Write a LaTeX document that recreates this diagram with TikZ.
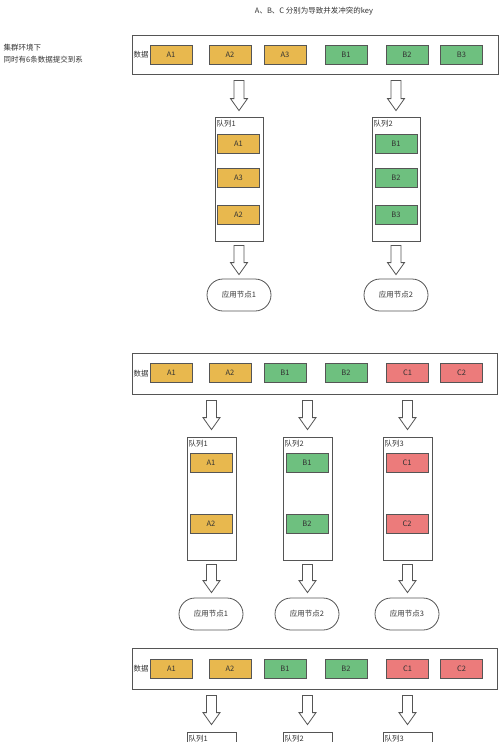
\documentclass[tikz,border=0pt]{standalone}
\usepackage{fontspec}
\setmainfont{Noto Sans CJK SC}
\usetikzlibrary{calc}
\definecolor{keyA}{HTML}{E8B84E}
\definecolor{keyB}{HTML}{6EC07F}
\definecolor{keyC}{HTML}{EC7B7B}
\definecolor{edge}{HTML}{555555}
\definecolor{ink}{HTML}{333333}
\begin{document}
\begin{tikzpicture}[x=1pt, y=-1pt, line width=0.8pt, text=ink, font=\fontsize{7.5}{9}\selectfont,
    cell/.style = {draw=edge, minimum width=42pt, minimum height=19pt, inner sep=0pt},
    ka/.style = {cell, fill=keyA}, kb/.style = {cell, fill=keyB}, kc/.style = {cell, fill=keyC},
    data/.style = {draw=edge, minimum width=365pt, minimum height=41pt},
    queue/.style = {draw=edge, minimum width=49pt, minimum height=123pt},
    app/.style = {draw=edge, rounded corners=16pt, minimum width=64pt, minimum height=32pt},
    tag/.style = {inner sep=1.5pt},
    hollow/.style = {draw=edge, to path={let \p1=(\tikztostart), \p2=(\tikztotarget) in
        (\x1-5pt,\y1) -- (\x1+5pt,\y1) -- (\x1+5pt,\y2+12pt) -- (\x1+8.5pt,\y2+12pt)
        -- (\x1,\y2) -- (\x1-8.5pt,\y2+12pt) -- (\x1-5pt,\y2+12pt) -- cycle}}]
    \useasboundingbox (0,0) rectangle (500,742);
    \clip (0,0) rectangle (500,742);
    % header
    \node (title) at (314,11) {A、B、C 分别为导致并发冲突的key};
    \node[align=left, anchor=west, font=\fontsize{7.5}{12}\selectfont] (note) at (0,54) {集群环境下\\同时有6条数据提交到系};
    % first case: A and B
    \node[data, minimum width=366pt, minimum height=39pt] (d1) at (315,54.5) {};
    \node[tag, anchor=west] (d1t) at (d1.west) {数据};
    \node[ka] (d1a1) at (171,54.5) {A1};
    \node[ka] (d1a2) at (230,54.5) {A2};
    \node[ka] (d1a3) at (285,54.5) {A3};
    \node[kb] (d1b1) at (346,54.5) {B1};
    \node[kb] (d1b2) at (407,54.5) {B2};
    \node[kb] (d1b3) at (461.5,54.5) {B3};
    \node[queue, minimum width=48pt, minimum height=124pt] (q11) at (239,179) {};
    \node[queue, minimum width=48pt, minimum height=124pt] (q12) at (396,179) {};
    \node[tag, anchor=north west] (q11t) at ([yshift=-2pt]q11.north west) {队列1};
    \node[tag, anchor=north west] (q12t) at ([yshift=-2pt]q12.north west) {队列2};
    \node[ka] (q11a1) at (238.5,144) {A1};
    \node[ka] (q11a3) at (238.5,177.5) {A3};
    \node[ka] (q11a2) at (238.5,214.5) {A2};
    \node[kb] (q12b1) at (396,144) {B1};
    \node[kb] (q12b2) at (396,177.5) {B2};
    \node[kb] (q12b3) at (396,214.5) {B3};
    \node[app] (n11) at (239,295) {应用节点1};
    \node[app] (n12) at (396,295) {应用节点2};
    \draw[hollow] ([yshift=-6pt]d1.south -| q11.north) to ([yshift=6pt]q11.north);
    \draw[hollow] ([yshift=-6pt]d1.south -| q12.north) to ([yshift=6pt]q12.north);
    \draw[hollow] ([yshift=-4pt]q11.south) to ([yshift=4pt]n11.north);
    \draw[hollow] ([yshift=-4pt]q12.south) to ([yshift=4pt]n12.north);
    % second case: A, B and C
    \node[data] (d2) at (314.5,373.5) {};
    \node[tag, anchor=west] (d2t) at (d2.west) {数据};
    \node[ka] (d2a1) at (171.5,373) {A1};
    \node[ka] (d2a2) at (230,373) {A2};
    \node[kb] (d2b1) at (285,373) {B1};
    \node[kb] (d2b2) at (346,373) {B2};
    \node[kc] (d2c1) at (407.5,373) {C1};
    \node[kc] (d2c2) at (461.5,373) {C2};
    \node[queue] (q21) at (211.5,498.5) {};
    \node[queue] (q22) at (307.5,498.5) {};
    \node[queue] (q23) at (407.5,498.5) {};
    \node[tag, anchor=north west] (q21t) at ([yshift=-2pt]q21.north west) {队列1};
    \node[tag, anchor=north west] (q22t) at ([yshift=-2pt]q22.north west) {队列2};
    \node[tag, anchor=north west] (q23t) at ([yshift=-2pt]q23.north west) {队列3};
    \node[ka] (q21a1) at (211,463) {A1};
    \node[ka] (q21a2) at (211,524) {A2};
    \node[kb] (q22b1) at (307,463) {B1};
    \node[kb] (q22b2) at (307,524) {B2};
    \node[kc] (q23c1) at (407,463) {C1};
    \node[kc] (q23c2) at (407,524) {C2};
    \node[app] (n21) at (211,614) {应用节点1};
    \node[app] (n22) at (307,614) {应用节点2};
    \node[app] (n23) at (407,614) {应用节点3};
    \draw[hollow] ([yshift=-6pt]d2.south -| q21.north) to ([yshift=7pt]q21.north);
    \draw[hollow] ([yshift=-6pt]d2.south -| q22.north) to ([yshift=7pt]q22.north);
    \draw[hollow] ([yshift=-6pt]d2.south -| q23.north) to ([yshift=7pt]q23.north);
    \draw[hollow] ([yshift=-4pt]q21.south) to ([yshift=5pt]n21.north);
    \draw[hollow] ([yshift=-4pt]q22.south) to ([yshift=5pt]n22.north);
    \draw[hollow] ([yshift=-4pt]q23.south) to ([yshift=5pt]n23.north);
    % third case, cut off at the bottom
    \node[data] (d3) at (314.5,668.5) {};
    \node[tag, anchor=west] (d3t) at (d3.west) {数据};
    \node[ka] (d3a1) at (171.5,669) {A1};
    \node[ka] (d3a2) at (230,669) {A2};
    \node[kb] (d3b1) at (285,669) {B1};
    \node[kb] (d3b2) at (346,669) {B2};
    \node[kc] (d3c1) at (407.5,669) {C1};
    \node[kc] (d3c2) at (461.5,669) {C2};
    \node[queue] (q31) at (211.5,793.5) {};
    \node[queue] (q32) at (307.5,793.5) {};
    \node[queue] (q33) at (407.5,793.5) {};
    \node[tag, anchor=north west] (q31t) at ([yshift=-2pt]q31.north west) {队列1};
    \node[tag, anchor=north west] (q32t) at ([yshift=-2pt]q32.north west) {队列2};
    \node[tag, anchor=north west] (q33t) at ([yshift=-2pt]q33.north west) {队列3};
    \draw[hollow] ([yshift=-6pt]d3.south -| q31.north) to ([yshift=7pt]q31.north);
    \draw[hollow] ([yshift=-6pt]d3.south -| q32.north) to ([yshift=7pt]q32.north);
    \draw[hollow] ([yshift=-6pt]d3.south -| q33.north) to ([yshift=7pt]q33.north);
\end{tikzpicture}
\end{document}
